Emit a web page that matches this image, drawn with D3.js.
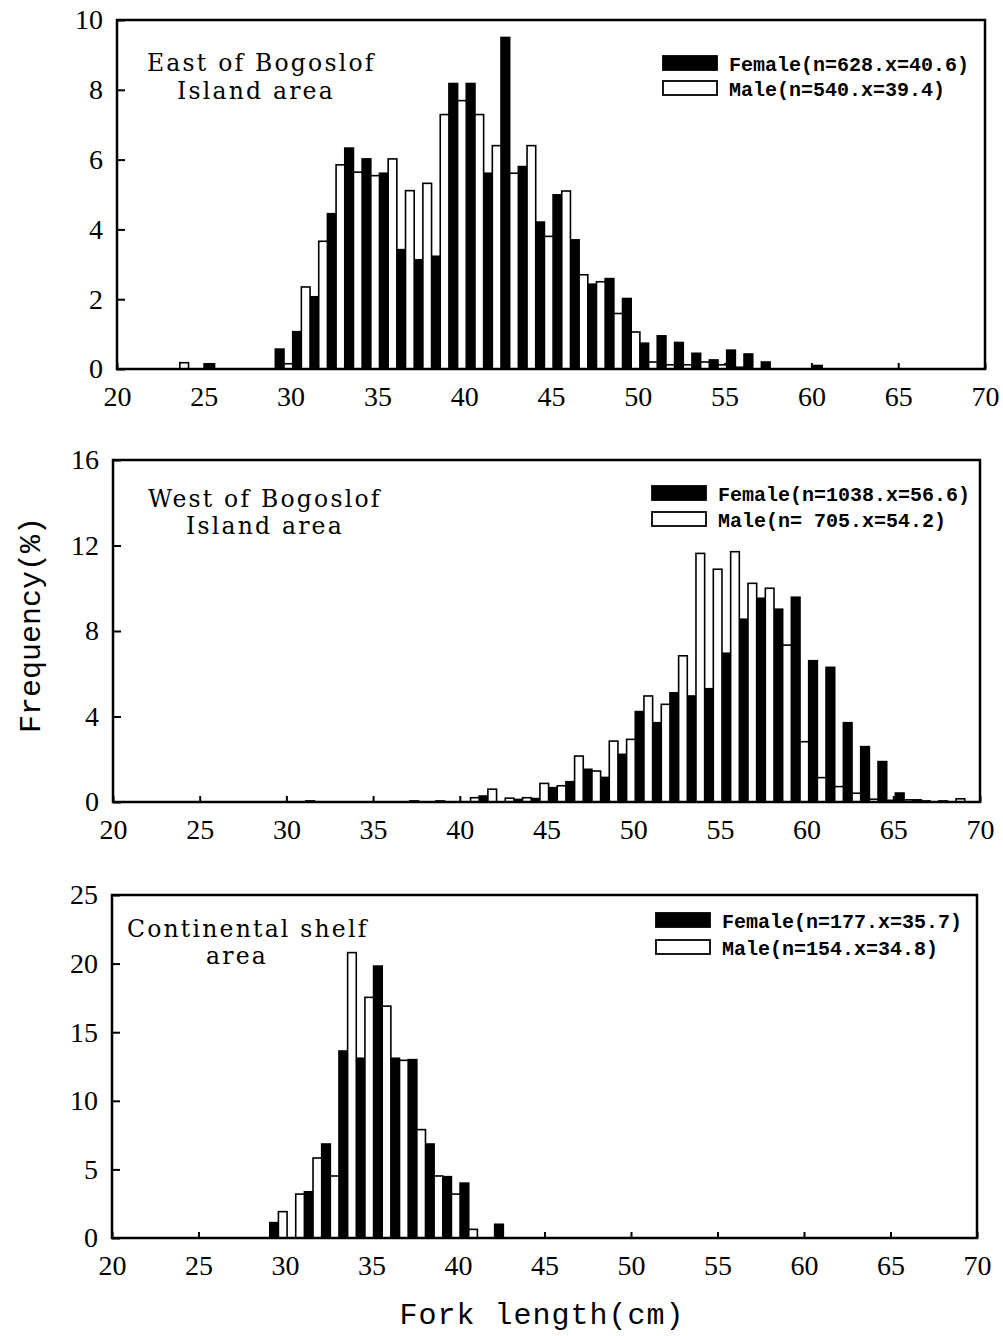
<!DOCTYPE html>
<html>
<head>
<meta charset="utf-8">
<script src="https://cdn.jsdelivr.net/npm/d3@7"></script>
<style>
    body { margin: 0; background: #fff; }
    svg { display: block; }
</style>
</head>
<body>
<div id="chart"></div>
<script>
// fork length classes (cm) and frequency (%)
const xTickValues = [20, 25, 30, 35, 40, 45, 50, 55, 60, 65, 70];

const eastBins   = [23, 24, 25, 26, 27, 28, 29, 30, 31, 32, 33, 34, 35, 36, 37, 38, 39, 40, 41, 42, 43, 44, 45, 46, 47, 48, 49, 50, 51, 52, 53, 54, 55, 56, 57, 58, 59, 60];
const eastFemale = [0, 0, 0.15, 0, 0, 0, 0.57, 1.07, 2.07, 4.45, 6.33, 6.02, 5.61, 3.42, 3.13, 3.23, 8.18, 8.18, 5.61, 9.5, 5.8, 4.21, 4.99, 3.7, 2.43, 2.59, 2.02, 0.74, 0.95, 0.76, 0.45, 0.26, 0.54, 0.43, 0.2, 0, 0, 0.1];
const eastMale   = [0.18, 0, 0, 0, 0, 0, 0.15, 2.35, 3.66, 5.85, 5.64, 5.54, 6.02, 5.11, 5.32, 7.29, 7.69, 7.29, 6.4, 5.61, 6.4, 3.8, 5.1, 2.7, 2.5, 1.59, 1.06, 0.2, 0.12, 0.12, 0.2, 0.12, 0.05, 0, 0, 0, 0, 0];
const eastYTicks = [0, 2, 4, 6, 8, 10];

const westBins   = [31, 32, 33, 34, 35, 36, 37, 38, 39, 40, 41, 42, 43, 44, 45, 46, 47, 48, 49, 50, 51, 52, 53, 54, 55, 56, 57, 58, 59, 60, 61, 62, 63, 64, 65, 66, 67, 68];
const westFemale = [0.05, 0, 0, 0, 0, 0, 0.05, 0, 0, 0, 0.28, 0, 0.12, 0.16, 0.67, 0.95, 1.53, 1.15, 2.23, 4.23, 3.71, 5.11, 4.96, 5.3, 6.96, 8.55, 9.53, 9.02, 9.58, 6.61, 6.3, 3.71, 2.59, 1.89, 0.42, 0.1, 0, 0];
const westMale   = [0, 0, 0, 0, 0, 0, 0, 0.05, 0, 0.2, 0.6, 0.18, 0.2, 0.87, 0.76, 2.15, 1.45, 2.85, 2.93, 4.96, 4.57, 6.84, 11.63, 10.89, 11.71, 10.23, 10.0, 7.34, 2.82, 1.14, 0.72, 0.41, 0.13, 0.08, 0.1, 0.05, 0.05, 0.15];
const westYTicks = [0, 4, 8, 12, 16];

const shelfBins   = [29, 30, 31, 32, 33, 34, 35, 36, 37, 38, 39, 40, 41, 42];
const shelfFemale = [1.12, 0, 3.37, 6.85, 13.63, 13.1, 19.82, 13.1, 13.0, 6.85, 4.47, 4.0, 0, 1.0];
const shelfMale   = [1.92, 3.2, 5.83, 4.52, 20.8, 17.54, 16.9, 12.95, 7.9, 4.52, 3.2, 0.63, 0, 0];
const shelfYTicks = [0, 5, 10, 15, 20, 25];

const areaTitles = [
    ["East of Bogoslof", "Island area"],
    ["West of Bogoslof", "Island area"],
    ["Continental shelf", "area"]
];
const legendLabels = [
    ["Female(n=628.x=40.6)", "Male(n=540.x=39.4)"],
    ["Female(n=1038.x=56.6)", "Male(n= 705.x=54.2)"],
    ["Female(n=177.x=35.7)", "Male(n=154.x=34.8)"]
];

const width = 1003, height = 1336;

function LengthChart(svg, cfg) {
    let vis = this;
    vis.svg = svg;
    vis.cfg = cfg;
    vis.initVis();
}

LengthChart.prototype.initVis = function() {
    let vis = this;
    let c = vis.cfg;

    vis.g = vis.svg.append("g");

    vis.x = d3.scaleLinear().domain([20, 70]).range([c.left, c.right]);
    vis.y = d3.scaleLinear().domain([0, d3.max(c.yTicks)]).range([c.bottom, c.top]);

    // axes, ticks point inward
    vis.g.append("g")
        .attr("transform", "translate(" + c.left + ",0)")
        .call(d3.axisLeft(vis.y).tickValues(c.yTicks).tickSize(-8).tickPadding(14))
        .call(g => g.select(".domain").remove());

    vis.g.append("g")
        .attr("transform", "translate(0," + c.bottom + ")")
        .call(d3.axisBottom(vis.x).tickValues(xTickValues).tickSize(-6).tickPadding(17))
        .call(g => g.select(".domain").remove());

    vis.g.selectAll(".tick line").attr("stroke", "#000").attr("stroke-width", 2);
    vis.g.selectAll(".tick text")
        .attr("fill", "#000")
        .attr("font-family", "'Liberation Serif', serif")
        .attr("font-size", 28);

    vis.updateVis();
}

LengthChart.prototype.updateVis = function() {
    let vis = this;
    let c = vis.cfg;

    let rows = c.bins.map((b, i) => ({bin: b, female: c.female[i], male: c.male[i]}));

    // black = female (left half), white = male (right half)
    vis.g.selectAll(".female")
        .data(rows.filter(d => d.female > 0))
        .join("rect")
        .attr("class", "female")
        .attr("x", d => vis.x(d.bin + 0.12))
        .attr("width", d => vis.x(d.bin + 0.62) - vis.x(d.bin + 0.12))
        .attr("y", d => vis.y(d.female))
        .attr("height", d => vis.y(0) - vis.y(d.female))
        .attr("fill", "#000")
        .attr("stroke", "#000")
        .attr("stroke-width", 1.6);

    vis.g.selectAll(".male")
        .data(rows.filter(d => d.male > 0))
        .join("rect")
        .attr("class", "male")
        .attr("x", d => vis.x(d.bin + 0.62))
        .attr("width", d => vis.x(d.bin + 1.12) - vis.x(d.bin + 0.62))
        .attr("y", d => vis.y(d.male))
        .attr("height", d => vis.y(0) - vis.y(d.male))
        .attr("fill", "#fff")
        .attr("stroke", "#000")
        .attr("stroke-width", 1.6);

    // frame
    vis.g.append("rect")
        .attr("x", c.left)
        .attr("y", c.top)
        .attr("width", c.right - c.left)
        .attr("height", c.bottom - c.top)
        .attr("fill", "none")
        .attr("stroke", "#000")
        .attr("stroke-width", 2.5);

    // area title
    c.title.forEach((t, i) => {
        vis.g.append("text")
            .attr("x", c.left + c.titleDx[i])
            .attr("y", c.top + c.titleDy[i])
            .attr("font-family", "'DejaVu Serif', serif")
            .attr("font-size", 23.5)
            .attr("letter-spacing", 2.2)
            .text(t);
    });

    // legend
    let fills = ["#000", "#fff"];
    c.legend.forEach((t, i) => {
        let ly = c.top + c.legendDy[i];
        vis.g.append("rect")
            .attr("x", c.legendX)
            .attr("y", ly)
            .attr("width", 54)
            .attr("height", 14)
            .attr("fill", fills[i])
            .attr("stroke", "#000")
            .attr("stroke-width", 1.8);
        vis.g.append("text")
            .attr("x", c.legendX + 66)
            .attr("y", ly + 15)
            .attr("font-family", "'Liberation Mono', monospace")
            .attr("font-weight", "bold")
            .attr("font-size", 20)
            .text(t);
    });
}

let svg = d3.select("#chart").append("svg")
    .attr("width", width)
    .attr("height", height)
    .style("background", "#fff");

new LengthChart(svg, {
    left: 117, right: 985, top: 20, bottom: 369, yTicks: eastYTicks,
    bins: eastBins, female: eastFemale, male: eastMale,
    title: areaTitles[0], titleDx: [30, 60], titleDy: [51, 79],
    legend: legendLabels[0], legendX: 663, legendDy: [36, 61]
});
new LengthChart(svg, {
    left: 113, right: 980, top: 460, bottom: 802, yTicks: westYTicks,
    bins: westBins, female: westFemale, male: westMale,
    title: areaTitles[1], titleDx: [35, 73], titleDy: [47, 74],
    legend: legendLabels[1], legendX: 652, legendDy: [26, 52]
});
new LengthChart(svg, {
    left: 112, right: 977, top: 895, bottom: 1238, yTicks: shelfYTicks,
    bins: shelfBins, female: shelfFemale, male: shelfMale,
    title: areaTitles[2], titleDx: [15, 94], titleDy: [42, 69],
    legend: legendLabels[2], legendX: 656, legendDy: [18, 45]
});

// shared axis titles
svg.append("text")
    .attr("transform", "translate(40,625) rotate(-90)")
    .attr("text-anchor", "middle")
    .attr("font-family", "'Liberation Mono', monospace")
    .attr("font-size", 30)
    .text("Frequency(%)");

svg.append("text")
    .attr("x", 542)
    .attr("y", 1324)
    .attr("text-anchor", "middle")
    .attr("font-family", "'Liberation Mono', monospace")
    .attr("font-size", 30)
    .attr("letter-spacing", 1)
    .text("Fork length(cm)");
</script>
</body>
</html>
